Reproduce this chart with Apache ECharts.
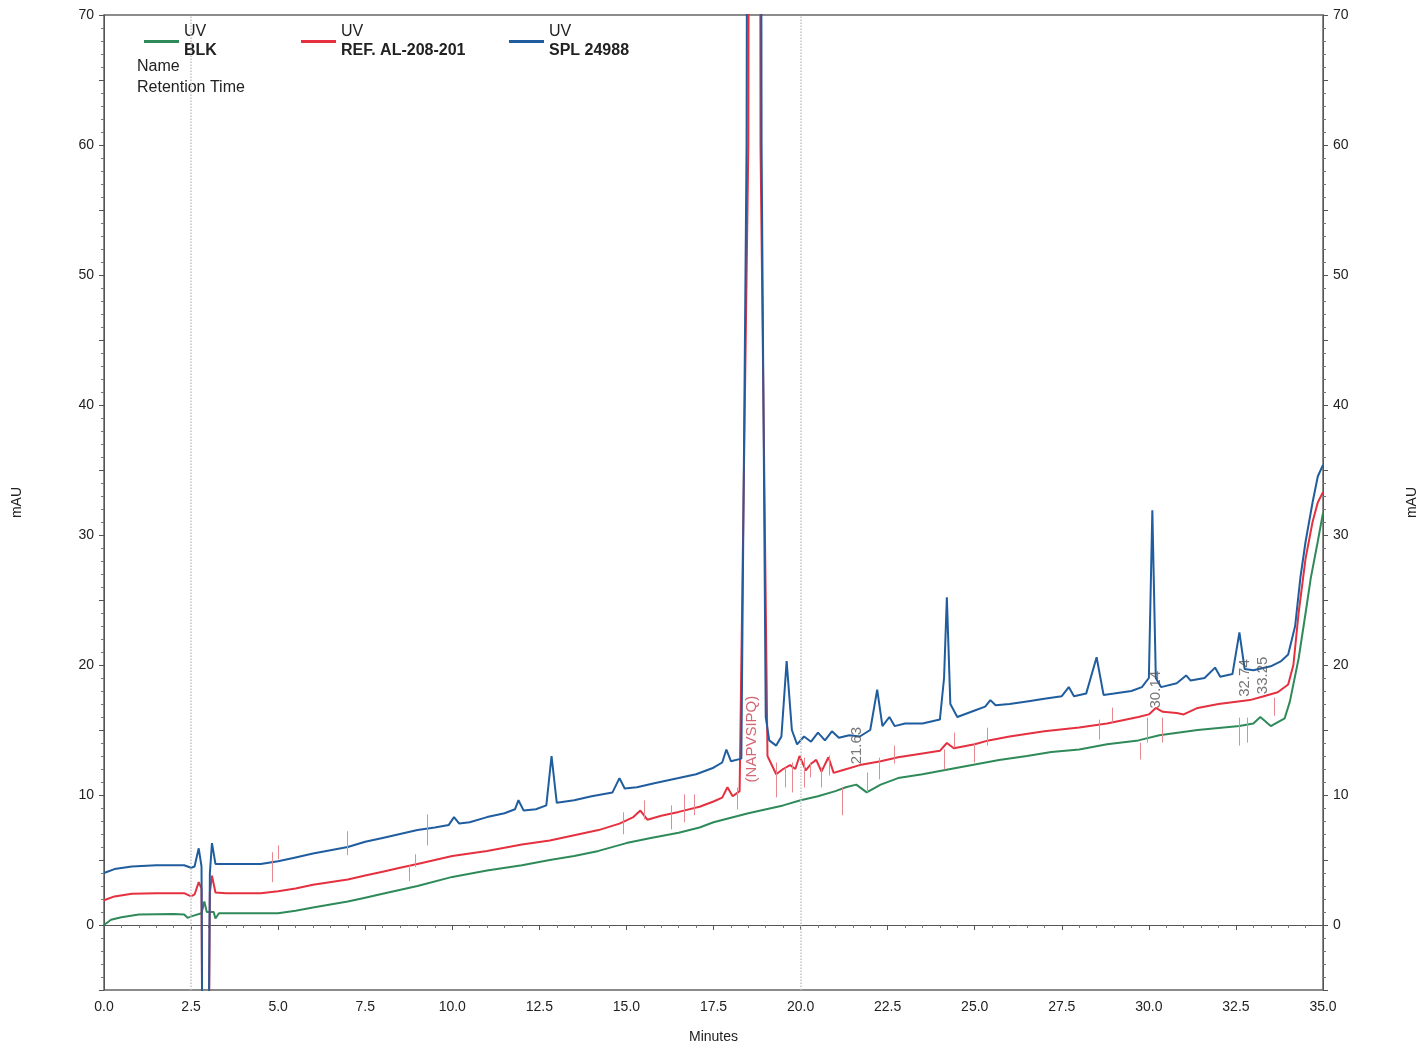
<!DOCTYPE html>
<html>
<head>
<meta charset="utf-8">
<title>UV chromatogram</title>
<script src="https://cdn.jsdelivr.net/npm/echarts@6/dist/echarts.min.js"></script>
<style>
  html, body { margin: 0; padding: 0; background: #fff; }
  #chart { width: 1427px; height: 1049px; }
</style>
</head>
<body>
<div id="chart"></div>
<script>
// ── data (minutes, mAU) ─────────────────────────────────────────
const blk = [
  [0, 0.0], [0.2, 0.4], [0.5, 0.6], [1.0, 0.8], [2.0, 0.85], [2.3, 0.8], [2.4, 0.55], [2.55, 0.7],
  [2.8, 0.9], [2.88, 1.8], [2.95, 1.0], [3.15, 1.0], [3.2, 0.5], [3.3, 0.9], [4.0, 0.9], [5.0, 0.9],
  [5.5, 1.1], [6.0, 1.35], [7.0, 1.8], [7.5, 2.1], [8.0, 2.4], [9.0, 3.0], [10.0, 3.7], [11.0, 4.2],
  [12.0, 4.6], [12.8, 5.0], [13.5, 5.3], [14.2, 5.7], [15.0, 6.3], [15.7, 6.7], [16.5, 7.1], [17.1, 7.5],
  [17.5, 7.9], [18.5, 8.6], [19.5, 9.2], [20.0, 9.6], [20.5, 9.9], [21.0, 10.3], [21.3, 10.6], [21.6, 10.8],
  [21.9, 10.2], [22.3, 10.8], [22.8, 11.3], [23.5, 11.6], [24.5, 12.1], [25.7, 12.7], [26.5, 13.0],
  [27.2, 13.3], [28.0, 13.5], [28.8, 13.9], [29.7, 14.2], [30.3, 14.6], [31.4, 15.0], [32.6, 15.3],
  [33.0, 15.5], [33.2, 16.0], [33.5, 15.3], [33.9, 15.9], [34.05, 17.2], [34.3, 20.5], [34.5, 24.0],
  [34.65, 26.7], [34.85, 29.5], [35, 31.7]
]

const ref = [
  [0, 1.9], [0.3, 2.2], [0.8, 2.4], [1.5, 2.45], [2.3, 2.45], [2.5, 2.2], [2.6, 2.35], [2.72, 3.3],
  [2.8, 2.8], [2.84, -20], [2.98, -20], [3.04, 2.5], [3.1, 3.8], [3.2, 2.5], [3.5, 2.45], [4.5, 2.45],
  [5.0, 2.6], [5.5, 2.8], [6.0, 3.1], [7.0, 3.5], [7.5, 3.8], [8.0, 4.1], [8.5, 4.4], [9.0, 4.7],
  [9.5, 5.0], [10.0, 5.3], [11.0, 5.7], [12.0, 6.2], [12.8, 6.5], [13.5, 6.9], [14.2, 7.3], [14.8, 7.8],
  [15.2, 8.3], [15.4, 8.8], [15.6, 8.1], [16.0, 8.4], [16.5, 8.7], [17.1, 9.1], [17.5, 9.5], [17.75, 9.8],
  [17.9, 10.6], [18.05, 9.9], [18.25, 10.3], [18.5, 60], [18.7, 400], [18.85, 60], [19.05, 13.0],
  [19.3, 11.6], [19.5, 12.0], [19.7, 12.3], [19.85, 12.0], [19.97, 13.0], [20.15, 11.9], [20.3, 12.4],
  [20.45, 12.7], [20.6, 11.8], [20.8, 12.9], [20.95, 11.7], [21.2, 11.9], [21.7, 12.3], [22.3, 12.6],
  [22.8, 12.9], [23.5, 13.2], [24.0, 13.4], [24.2, 14.0], [24.4, 13.6], [25.0, 13.9], [25.4, 14.2],
  [26.0, 14.5], [27.0, 14.9], [28.0, 15.2], [28.8, 15.5], [29.7, 16.0], [30.0, 16.2], [30.2, 16.7],
  [30.4, 16.4], [30.8, 16.3], [31.0, 16.2], [31.4, 16.7], [32.0, 17.0], [32.9, 17.3], [33.3, 17.6],
  [33.7, 17.9], [34.0, 18.5], [34.15, 20.0], [34.3, 24.0], [34.5, 28.2], [34.7, 31.0], [34.85, 32.5],
  [35, 33.3]
]

const spl = [
  [0, 4.0], [0.3, 4.3], [0.8, 4.5], [1.5, 4.6], [2.3, 4.6], [2.5, 4.4], [2.6, 4.5], [2.72, 5.9],
  [2.8, 4.5], [2.84, -20], [2.98, -20], [3.04, 4.0], [3.1, 6.3], [3.2, 4.7], [3.5, 4.7], [4.5, 4.7],
  [5.0, 4.9], [5.5, 5.2], [6.0, 5.5], [7.0, 6.0], [7.5, 6.4], [8.0, 6.7], [8.5, 7.0], [9.0, 7.3],
  [9.5, 7.5], [9.9, 7.7], [10.05, 8.3], [10.2, 7.8], [10.5, 7.9], [11.0, 8.3], [11.5, 8.6], [11.8, 8.9],
  [11.9, 9.6], [12.05, 8.8], [12.4, 8.9], [12.7, 9.2], [12.85, 13.0], [13.0, 9.4], [13.5, 9.6],
  [14.0, 9.9], [14.6, 10.2], [14.8, 11.3], [14.95, 10.5], [15.3, 10.6], [15.8, 10.9], [16.5, 11.3],
  [17.0, 11.6], [17.5, 12.1], [17.75, 12.5], [17.87, 13.5], [18.0, 12.6], [18.3, 12.8], [18.45, 60],
  [18.7, 400], [18.88, 60], [19.0, 16.0], [19.1, 14.2], [19.3, 13.8], [19.45, 14.5], [19.6, 20.3],
  [19.75, 15.0], [19.9, 13.9], [20.1, 14.5], [20.3, 14.1], [20.5, 14.8], [20.7, 14.2], [20.9, 14.9],
  [21.1, 14.4], [21.4, 14.6], [21.7, 14.5], [22.0, 15.0], [22.2, 18.1], [22.35, 15.3], [22.55, 16.0],
  [22.7, 15.3], [23.0, 15.5], [23.5, 15.5], [24.0, 15.8], [24.12, 19.0], [24.2, 25.2], [24.3, 17.0],
  [24.5, 16.0], [25.0, 16.5], [25.3, 16.8], [25.45, 17.3], [25.6, 16.9], [26.0, 17.0], [26.5, 17.2],
  [27.0, 17.4], [27.5, 17.6], [27.7, 18.3], [27.85, 17.6], [28.2, 17.8], [28.5, 20.6], [28.7, 17.7],
  [29.0, 17.8], [29.5, 18.0], [29.8, 18.3], [30.0, 19.0], [30.1, 31.9], [30.2, 19.0], [30.35, 18.3],
  [30.8, 18.6], [31.07, 19.2], [31.2, 18.8], [31.6, 19.0], [31.9, 19.8], [32.05, 19.1], [32.4, 19.3],
  [32.6, 22.5], [32.75, 19.7], [33.0, 19.6], [33.5, 19.9], [33.8, 20.3], [34.0, 20.8], [34.2, 23.0],
  [34.35, 26.7], [34.5, 29.5], [34.7, 32.5], [34.85, 34.5], [35, 35.4]
]

// integration marks: [time, low, high]
const peakMarks = [
  [4.82, 3.3, 5.6], [4.99, 5.06, 6.13], [6.97, 5.37, 7.21], [8.75, 3.37, 4.6], [8.95, 4.45, 5.44],
  [9.29, 6.13, 8.51], [14.92, 6.98, 8.67], [15.52, 8.13, 9.59], [16.29, 7.36, 9.2], [16.67, 7.9, 10.05],
  [16.95, 8.44, 10.05], [18.19, 8.9, 10.58], [19.31, 9.82, 12.5], [19.57, 10.58, 12.12],
  [19.76, 10.2, 12.5], [20.1, 10.58, 12.88], [20.28, 11.35, 12.5], [20.6, 10.58, 12.12],
  [20.83, 11.5, 13.04], [21.2, 8.44, 10.58], [21.92, 10.2, 11.73], [22.26, 11.2, 12.88],
  [22.69, 12.42, 13.8], [24.12, 11.96, 13.5], [24.41, 13.65, 14.8], [24.99, 12.5, 14.03],
  [25.36, 13.8, 15.18], [28.57, 14.26, 15.8], [28.94, 15.57, 16.72], [29.75, 12.73, 14.03],
  [29.95, 14.03, 15.95], [30.38, 14.03, 15.95], [32.59, 13.8, 15.95], [32.82, 14.03, 15.95],
  [33.59, 16.1, 17.48]
]

// peak annotations: [time, mAU, text]
const peakNames = [[18.59, 14.3, '(NAPVSIPQ)']]
const peakTimes = [[21.63, 13.8, '21.63'], [30.2, 18.1, '30.14'], [32.76, 19.0, '32.74'], [33.28, 19.2, '33.25']]

const guideTimes = [2.5, 20.0]

// ── chart ───────────────────────────────────────────────────────
const GREEN = '#2f8a5a'
const RED   = '#e5303f'
const BLUE  = '#1f5d9e'
const FONT  = 'Liberation Sans, Arial, sans-serif'

const chart = echarts.init(document.getElementById('chart'), null, { renderer: 'canvas' })

const axisY = (pos) => ({
  type: 'value',
  position: pos,
  min: -5,
  max: 70,
  interval: 5,
  name: 'mAU',
  nameLocation: 'middle',
  nameRotate: 90,
  nameGap: pos === 'left' ? 80 : 82,
  nameTextStyle: { fontFamily: FONT, fontSize: 14, color: '#222' },
  axisLine: { show: true, lineStyle: { color: '#555', width: 1 } },
  axisTick: { show: true, length: 5, lineStyle: { color: '#555' } },
  minorTick: { show: true, splitNumber: 5, length: 3, lineStyle: { color: '#777' } },
  axisLabel: {
    fontFamily: FONT, fontSize: 14, color: '#222', margin: 10,
    formatter: v => (v % 10 === 0 ? String(v) : '')
  },
  splitLine: { show: false }
})

const legendFor = (name, left) => ({
  left, top: 19,
  data: [name],
  icon: 'rect',
  itemWidth: 35,
  itemHeight: 3,
  selectedMode: false,
  formatter: n => '{a|UV}\n{b|' + n + '}',
  textStyle: {
    fontFamily: FONT,
    rich: {
      a: { fontSize: 16, color: '#222', lineHeight: 19 },
      b: { fontSize: 16, color: '#222', fontWeight: 'bold', lineHeight: 19 }
    }
  }
})

const labelSeries = (rows, color) => ({
  type: 'scatter',
  symbolSize: 1,
  itemStyle: { color: 'transparent' },
  silent: true,
  z: 5,
  data: rows.map(r => ({ value: [r[0], r[1]], text: r[2] })),
  label: {
    show: true,
    position: 'inside',
    rotate: 90,
    fontFamily: FONT,
    fontSize: 15,
    color,
    formatter: p => p.data.text
  }
})

const option = {
  animation: false,
  backgroundColor: '#ffffff',
  grid: {
    left: 104, right: 103, top: 15, bottom: 56,
    show: true, borderColor: '#666', borderWidth: 1.5
  },
  legend: [
    legendFor('BLK', 139),
    legendFor('REF. AL-208-201', 296),
    legendFor('SPL 24988', 504)
  ],
  graphic: [
    { type: 'text', left: 137, top: 59, style: { text: 'Name', font: '16px ' + FONT, fill: '#222' } },
    { type: 'text', left: 137, top: 80, style: { text: 'Retention Time', font: '16px ' + FONT, fill: '#222' } }
  ],
  xAxis: {
    type: 'value',
    min: 0,
    max: 35,
    interval: 2.5,
    name: 'Minutes',
    nameLocation: 'middle',
    nameGap: 40,
    nameTextStyle: { fontFamily: FONT, fontSize: 14, color: '#222' },
    axisLine: { lineStyle: { color: '#555', width: 1 } },
    axisTick: { length: 5, lineStyle: { color: '#555' } },
    minorTick: { show: true, splitNumber: 5, length: 3, lineStyle: { color: '#777' } },
    axisLabel: { fontFamily: FONT, fontSize: 14, color: '#222', margin: 10, formatter: v => v.toFixed(1) },
    splitLine: { show: false }
  },
  yAxis: [axisY('left'), axisY('right')],
  series: [
    {
      name: 'BLK', type: 'line', data: blk, showSymbol: false,
      lineStyle: { color: GREEN, width: 2 }, itemStyle: { color: GREEN },
      markLine: {
        silent: true, symbol: 'none', label: { show: false },
        lineStyle: { color: '#c4c4c4', type: 'dotted', width: 1.5 },
        data: guideTimes.map(t => ({ xAxis: t }))
      }
    },
    {
      name: 'REF. AL-208-201', type: 'line', data: ref, showSymbol: false,
      lineStyle: { color: RED, width: 2 }, itemStyle: { color: RED },
      markLine: {
        silent: true, symbol: 'none', label: { show: false },
        lineStyle: { color: '#e88890', type: 'solid', width: 1 },
        data: peakMarks.map(m => [{ coord: [m[0], m[1]] }, { coord: [m[0], m[2]] }])
      }
    },
    {
      name: 'SPL 24988', type: 'line', data: spl, showSymbol: false,
      lineStyle: { color: BLUE, width: 2 }, itemStyle: { color: BLUE }
    },
    labelSeries(peakNames, '#c8404f'),
    labelSeries(peakTimes, '#555')
  ]
}

chart.setOption(option)
</script>
</body>
</html>
